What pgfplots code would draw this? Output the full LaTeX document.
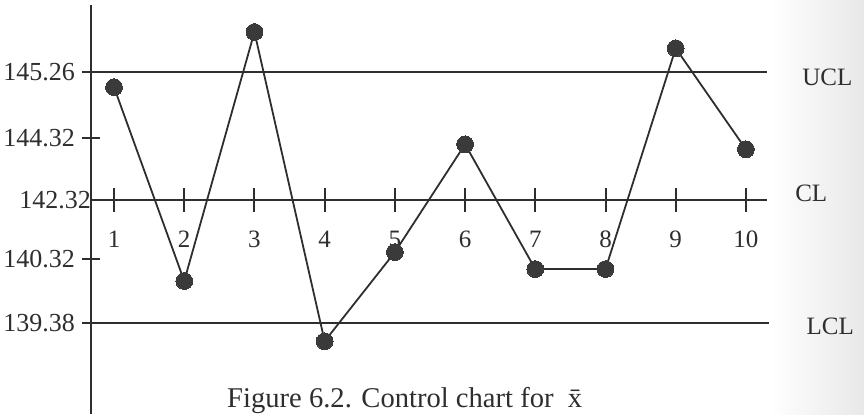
\documentclass[border=0pt]{standalone}
\usepackage{fontspec}
\setmainfont{Liberation Serif}
\usepackage{pgfplots}
\pgfplotsset{compat=1.18}

\definecolor{ink}{HTML}{2E2E2E}
\definecolor{dot}{HTML}{3A3A3A}

% Sample means, plotted on the chart's own (schematic) vertical scale:
% LCL = 0, UCL = 4, tick positions listed below with their values.
\begin{document}
\begin{tikzpicture}
\useasboundingbox (-45.5pt,0pt) rectangle (386.5pt,207pt);
% slight paper shading at the right edge
\shade[left color=white, right color=black!9] (339pt,0pt) rectangle (386.5pt,207pt);
\begin{axis}[
  at={(0pt,0pt)}, anchor=south west,
  scale only axis, width=338pt, height=204.5pt,
  xmin=0.672, xmax=10.30, ymin=-1.45, ymax=5.07,
  axis x line=none, axis y line*=left,
  axis line style={ink, line width=1.2pt},
  tick align=center, major tick length=9pt,
  major tick style={ink, line width=1.1pt},
  ytick={0,1.02,2.95,4},
  yticklabels={139.38,140.32,144.32,145.26},
  extra y ticks={1.96}, extra y tick labels={142.32},
  extra y tick style={major tick length=0pt,
    yticklabel style={xshift=3.5pt}},
  yticklabel style={font=\fontsize{13}{15}\selectfont, text=ink},
  /pgf/number format/assume math mode=true,
  clip=false,
]
% control limits
\addplot[ink, line width=1.2pt] coordinates {(0.672,4) (10.30,4)};
\addplot[ink, line width=1.2pt] coordinates {(0.672,1.96) (10.30,1.96)};
\addplot[ink, line width=1.2pt] coordinates {(0.672,0) (10.33,0)};
% sample numbers marked on the centre line
\addplot[only marks, mark=|, mark size=6pt, mark options={ink, line width=1pt},
  nodes near coords={\pgfmathprintnumber{\pgfkeysvalueof{/data point/x}}},
  every node near coord/.append style={anchor=north, inner sep=0pt, yshift=-15pt,
    font=\fontsize{12.5}{14}\selectfont, text=ink}]
  coordinates {(1,1.96) (2,1.96) (3,1.96) (4,1.96) (5,1.96)
               (6,1.96) (7,1.96) (8,1.96) (9,1.96) (10,1.96)};
% sample means
\addplot[ink, line width=0.9pt, mark=*, mark size=4.2pt,
  mark options={fill=dot, draw=dot, line width=0pt}]
  coordinates {(1,3.76) (2,0.67) (3,4.64) (4,-0.29) (5,1.13)
               (6,2.85) (7,0.86) (8,0.86) (9,4.38) (10,2.77)};
% line names
\node[font=\fontsize{12.5}{14}\selectfont, text=ink] at (axis cs:11.16,3.92) {UCL};
\node[font=\fontsize{12.5}{14}\selectfont, text=ink] at (axis cs:10.93,2.07) {CL};
\node[font=\fontsize{12.5}{14}\selectfont, text=ink] at (axis cs:11.20,-0.06) {LCL};
% caption
\node[anchor=base, font=\fontsize{14.3}{16}\selectfont, text=ink]
  at (axis cs:5.14,-1.345) {Figure 6.2. Control chart for \ \=x};
\end{axis}
\end{tikzpicture}
\end{document}
